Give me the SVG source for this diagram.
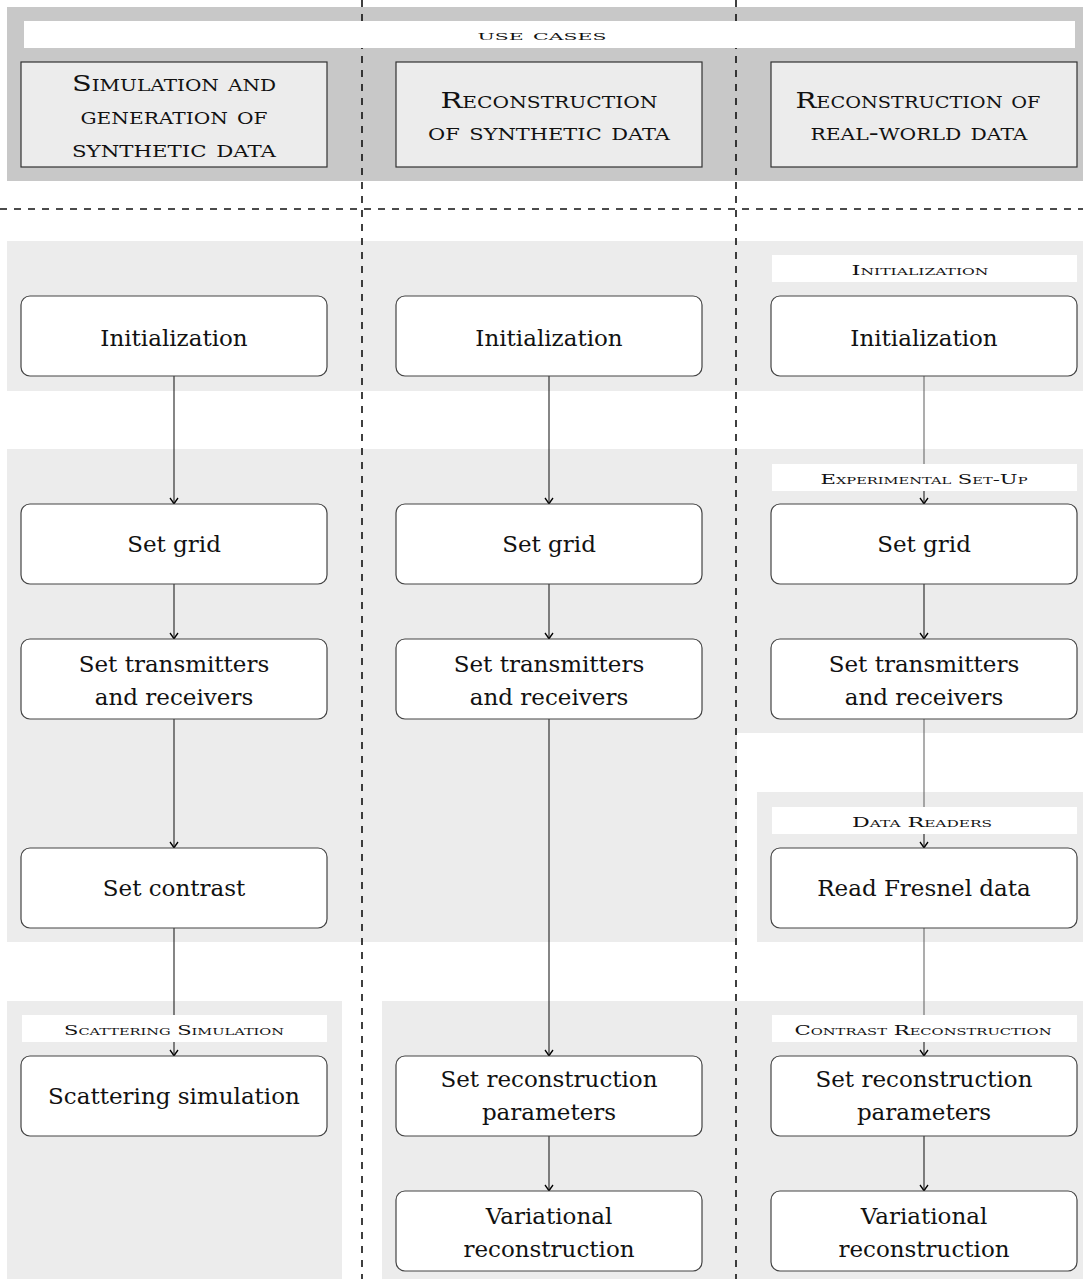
<svg xmlns="http://www.w3.org/2000/svg" width="1083" height="1279" viewBox="0 0 1083 1279">
<defs>
<style>
.bg{fill:#ececec}
.band{fill:#c8c8c8}
.bar{fill:#ffffff}
.hbox{fill:#ececec;stroke:#333;stroke-width:1.2}
.node{fill:#ffffff;stroke:#444;stroke-width:1.2}
.t{font-family:"DejaVu Serif","Liberation Serif",serif;font-size:23px;fill:#111;text-anchor:middle}
.h{font-family:"DejaVu Serif","Liberation Serif",serif;font-size:23px;fill:#111;text-anchor:middle;font-variant:small-caps}
.lb{font-family:"DejaVu Serif","Liberation Serif",serif;font-size:13px;fill:#111;text-anchor:middle;font-variant:small-caps}
.dash{stroke:#111;stroke-width:1.6;stroke-dasharray:7 7;fill:none}
.e{stroke:#222;stroke-width:1.1;fill:none}
.eg{stroke:#6a6a6a;stroke-width:1.1;fill:none}
</style>
<marker id="arr" viewBox="-7 -5 8 10" refX="0" refY="0" markerWidth="8" markerHeight="10" orient="auto" markerUnits="userSpaceOnUse">
<path d="M -6 -4 Q -2 -1 0 0 Q -2 1 -6 4" stroke="#000" stroke-width="1.3" fill="none"/>
</marker>
</defs>

<g id="backgrounds">
<rect class="band" x="7" y="7" width="1076" height="174"/>
<rect class="bg" x="7" y="241" width="1076" height="150"/>
<path class="bg" d="M7,449 H1083 V733 H737 V942 H7 Z"/>
<rect class="bg" x="757" y="792" width="326" height="150"/>
<rect class="bg" x="7" y="1001" width="335" height="278"/>
<rect class="bg" x="382" y="1001" width="701" height="278"/>
</g>

<g id="dashed-lines">
<line class="dash" x1="362" y1="0" x2="362" y2="1279"/>
<line class="dash" x1="736" y1="0" x2="736" y2="1279"/>
<line class="dash" x1="0" y1="209" x2="1083" y2="209"/>
</g>

<g id="connectors">
<line class="e" x1="174" y1="376" x2="174" y2="504" marker-end="url(#arr)"/>
<line class="e" x1="174" y1="584" x2="174" y2="639" marker-end="url(#arr)"/>
<line class="e" x1="174" y1="719" x2="174" y2="848" marker-end="url(#arr)"/>
<line class="e" x1="174" y1="928" x2="174" y2="1056" marker-end="url(#arr)"/>
<line class="e" x1="549" y1="376" x2="549" y2="504" marker-end="url(#arr)"/>
<line class="e" x1="549" y1="584" x2="549" y2="639" marker-end="url(#arr)"/>
<line class="e" x1="549" y1="719" x2="549" y2="1056" marker-end="url(#arr)"/>
<line class="e" x1="549" y1="1136" x2="549" y2="1191" marker-end="url(#arr)"/>
<line class="eg" x1="924" y1="376" x2="924" y2="465"/>
<line class="e" x1="924" y1="491" x2="924" y2="504" marker-end="url(#arr)"/>
<line class="e" x1="924" y1="584" x2="924" y2="639" marker-end="url(#arr)"/>
<line class="eg" x1="924" y1="719" x2="924" y2="808"/>
<line class="e" x1="924" y1="834" x2="924" y2="848" marker-end="url(#arr)"/>
<line class="eg" x1="924" y1="928" x2="924" y2="1016"/>
<line class="e" x1="924" y1="1042" x2="924" y2="1056" marker-end="url(#arr)"/>
<line class="e" x1="924" y1="1136" x2="924" y2="1191" marker-end="url(#arr)"/>
</g>

<g id="label-use-cases">
<rect class="bar" x="24" y="21" width="1051" height="27"/>
<text class="lb" x="542" y="40" font-size="15" textLength="129" lengthAdjust="spacingAndGlyphs">use cases</text>
</g>

<g id="uc-simulation">
<rect class="hbox" x="21" y="62" width="306" height="105"/>
<text class="h" x="174" y="91" textLength="204" lengthAdjust="spacingAndGlyphs">Simulation and</text>
<text class="h" x="174" y="124" textLength="187" lengthAdjust="spacingAndGlyphs">generation of</text>
<text class="h" x="174" y="157" textLength="204" lengthAdjust="spacingAndGlyphs">synthetic data</text>
</g>
<g id="uc-recon-synthetic">
<rect class="hbox" x="396" y="62" width="306" height="105"/>
<text class="h" x="549" y="108" textLength="217" lengthAdjust="spacingAndGlyphs">Reconstruction</text>
<text class="h" x="549" y="140" textLength="242" lengthAdjust="spacingAndGlyphs">of synthetic data</text>
</g>
<g id="uc-recon-real">
<rect class="hbox" x="771" y="62" width="306" height="105"/>
<text class="h" x="918" y="108" textLength="245" lengthAdjust="spacingAndGlyphs">Reconstruction of</text>
<text class="h" x="919" y="140" textLength="217" lengthAdjust="spacingAndGlyphs">real-world data</text>
</g>

<g id="label-initialization">
<rect class="bar" x="772" y="255" width="305" height="27"/>
<text class="lb" x="920" y="275" textLength="137" lengthAdjust="spacingAndGlyphs">Initialization</text>
</g>
<g id="label-experimental">
<rect class="bar" x="772" y="464" width="305" height="27"/>
<text class="lb" x="924" y="484" textLength="207" lengthAdjust="spacingAndGlyphs">Experimental Set-Up</text>
</g>
<g id="label-data-readers">
<rect class="bar" x="772" y="807" width="305" height="27"/>
<text class="lb" x="922" y="827" textLength="140" lengthAdjust="spacingAndGlyphs">Data Readers</text>
</g>
<g id="label-contrast-recon">
<rect class="bar" x="772" y="1015" width="305" height="27"/>
<text class="lb" x="923" y="1035" textLength="257" lengthAdjust="spacingAndGlyphs">Contrast Reconstruction</text>
</g>
<g id="label-scattering">
<rect class="bar" x="22" y="1015" width="305" height="27"/>
<text class="lb" x="174" y="1035" textLength="220" lengthAdjust="spacingAndGlyphs">Scattering Simulation</text>
</g>

<g id="n1-init"><rect class="node" x="21" y="296" width="306" height="80" rx="9"/><text class="t" x="174" y="346">Initialization</text></g>
<g id="n2-init"><rect class="node" x="396" y="296" width="306" height="80" rx="9"/><text class="t" x="549" y="346">Initialization</text></g>
<g id="n3-init"><rect class="node" x="771" y="296" width="306" height="80" rx="9"/><text class="t" x="924" y="346">Initialization</text></g>

<g id="n1-grid"><rect class="node" x="21" y="504" width="306" height="80" rx="9"/><text class="t" x="174" y="552">Set grid</text></g>
<g id="n2-grid"><rect class="node" x="396" y="504" width="306" height="80" rx="9"/><text class="t" x="549" y="552">Set grid</text></g>
<g id="n3-grid"><rect class="node" x="771" y="504" width="306" height="80" rx="9"/><text class="t" x="924" y="552">Set grid</text></g>

<g id="n1-tx"><rect class="node" x="21" y="639" width="306" height="80" rx="9"/><text class="t" x="174" y="672">Set transmitters</text><text class="t" x="174" y="705">and receivers</text></g>
<g id="n2-tx"><rect class="node" x="396" y="639" width="306" height="80" rx="9"/><text class="t" x="549" y="672">Set transmitters</text><text class="t" x="549" y="705">and receivers</text></g>
<g id="n3-tx"><rect class="node" x="771" y="639" width="306" height="80" rx="9"/><text class="t" x="924" y="672">Set transmitters</text><text class="t" x="924" y="705">and receivers</text></g>

<g id="n1-contrast"><rect class="node" x="21" y="848" width="306" height="80" rx="9"/><text class="t" x="174" y="896">Set contrast</text></g>
<g id="n3-fresnel"><rect class="node" x="771" y="848" width="306" height="80" rx="9"/><text class="t" x="924" y="896">Read Fresnel data</text></g>

<g id="n1-scatter"><rect class="node" x="21" y="1056" width="306" height="80" rx="9"/><text class="t" x="174" y="1104">Scattering simulation</text></g>
<g id="n2-params"><rect class="node" x="396" y="1056" width="306" height="80" rx="9"/><text class="t" x="549" y="1087">Set reconstruction</text><text class="t" x="549" y="1120">parameters</text></g>
<g id="n3-params"><rect class="node" x="771" y="1056" width="306" height="80" rx="9"/><text class="t" x="924" y="1087">Set reconstruction</text><text class="t" x="924" y="1120">parameters</text></g>

<g id="n2-var"><rect class="node" x="396" y="1191" width="306" height="80" rx="9"/><text class="t" x="549" y="1224">Variational</text><text class="t" x="549" y="1257">reconstruction</text></g>
<g id="n3-var"><rect class="node" x="771" y="1191" width="306" height="80" rx="9"/><text class="t" x="924" y="1224">Variational</text><text class="t" x="924" y="1257">reconstruction</text></g>
</svg>
